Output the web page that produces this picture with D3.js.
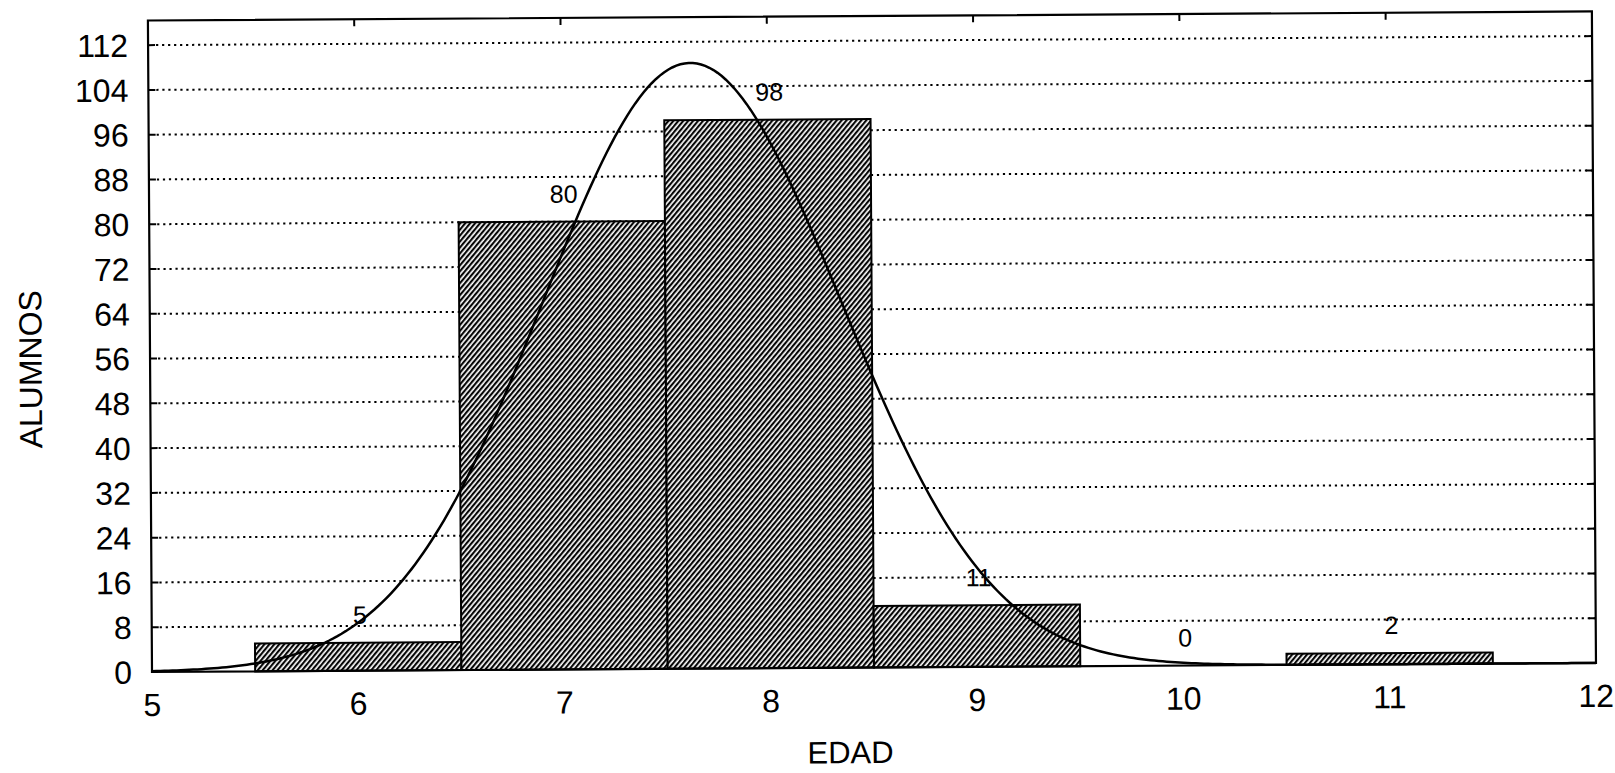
<!DOCTYPE html>
<html>
<head>
<meta charset="utf-8">
<script src="https://cdn.jsdelivr.net/npm/d3@7"></script>
<style>
  body { margin: 0; background: #fff; }
  svg { display: block; }
  text { font-family: "Liberation Sans", Arial, sans-serif; fill: #000; }
</style>
</head>
<body>
<svg id="chart" width="1615" height="773"></svg>
<script>
// Age classes (bin centres) and number of pupils in each
const edades = [6, 7, 8, 9, 10, 11];
const alumnos = [5, 80, 98, 11, 0, 2];
const xTicks = [5, 6, 7, 8, 9, 10, 11, 12];
const yTicks = [0, 8, 16, 24, 32, 40, 48, 56, 64, 72, 80, 88, 96, 104, 112];
const xTitle = "EDAD";
const yTitle = "ALUMNOS";

const svg = d3.select("#chart");

// plot frame
const plotLeft = 150, plotRight = 1594, plotBottom = 667.5, plotTop = 16;
const x = d3.scaleLinear().domain([5, 12]).range([plotLeft, plotRight]);
const y = d3.scaleLinear().domain([0, 116.4]).range([plotBottom, plotTop]);

// hatch fill for the bars
const defs = svg.append("defs");
const pat = defs.append("pattern")
  .attr("id", "hatch")
  .attr("patternUnits", "userSpaceOnUse")
  .attr("width", 3.8).attr("height", 3.8)
  .attr("patternTransform", "rotate(40)");
pat.append("rect").attr("width", 3.8).attr("height", 3.8).attr("fill", "#fff");
pat.append("line").attr("x1", 1.1).attr("y1", 0).attr("x2", 1.1).attr("y2", 3.8)
  .attr("stroke", "#000").attr("stroke-width", 2.1);

// the whole sheet sits slightly askew
const g = svg.append("g").attr("transform", "rotate(-0.36, 870, 350)");

// dotted horizontal grid
g.append("g").selectAll("line")
  .data(yTicks.filter(d => d > 0))
  .join("line")
  .attr("x1", plotLeft + 8).attr("x2", plotRight)
  .attr("y1", d => y(d)).attr("y2", d => y(d))
  .attr("stroke", "#000").attr("stroke-width", 2)
  .attr("stroke-dasharray", "2.2,3.8");

// histogram bars
const bins = edades.map((e, i) => ({ e, v: alumnos[i] }));
g.append("g").selectAll("rect")
  .data(bins.filter(d => d.v > 0))
  .join("rect")
  .attr("x", d => x(d.e - 0.5))
  .attr("width", d => x(d.e + 0.5) - x(d.e - 0.5))
  .attr("y", d => y(d.v))
  .attr("height", d => y(0) - y(d.v))
  .attr("fill", "url(#hatch)")
  .attr("stroke", "#000").attr("stroke-width", 2);

// fitted normal curve from the counts (bin width 1)
const N = d3.sum(alumnos);
const mean = d3.sum(bins, d => d.e * d.v) / N;
const sd = Math.sqrt(d3.sum(bins, d => d.v * (d.e - mean) ** 2) / (N - 1));
const fit = d3.range(5, 12.001, 0.02).map(t => [t,
  N / (sd * Math.sqrt(2 * Math.PI)) * Math.exp(-0.5 * ((t - mean) / sd) ** 2)]);
g.append("path")
  .datum(fit)
  .attr("fill", "none").attr("stroke", "#000").attr("stroke-width", 2.5)
  .attr("d", d3.line().x(d => x(d[0])).y(d => y(d[1])));

// frame
g.append("rect")
  .attr("x", plotLeft).attr("y", plotTop)
  .attr("width", plotRight - plotLeft).attr("height", plotBottom - plotTop)
  .attr("fill", "none").attr("stroke", "#000").attr("stroke-width", 2.2);

// inward ticks: left and right sides, top edge
g.append("g").selectAll("line")
  .data(yTicks.filter(d => d > 0))
  .join("line")
  .attr("x1", plotLeft).attr("x2", plotLeft + 7)
  .attr("y1", d => y(d)).attr("y2", d => y(d))
  .attr("stroke", "#000").attr("stroke-width", 2);
g.append("g").selectAll("line")
  .data(yTicks.filter(d => d > 0))
  .join("line")
  .attr("x1", plotRight - 7).attr("x2", plotRight)
  .attr("y1", d => y(d)).attr("y2", d => y(d))
  .attr("stroke", "#000").attr("stroke-width", 2);
g.append("g").selectAll("line")
  .data(xTicks.slice(1, -1))
  .join("line")
  .attr("x1", d => x(d)).attr("x2", d => x(d))
  .attr("y1", plotTop).attr("y2", plotTop + 7)
  .attr("stroke", "#000").attr("stroke-width", 2);

// y tick labels
g.append("g").selectAll("text")
  .data(yTicks)
  .join("text")
  .attr("x", plotLeft - 20).attr("y", d => y(d))
  .attr("dy", "0.36em")
  .attr("text-anchor", "end")
  .attr("font-size", 32)
  .text(d => d);

// x tick labels
g.append("g").selectAll("text")
  .data(xTicks)
  .join("text")
  .attr("x", d => x(d)).attr("y", plotBottom + 44)
  .attr("text-anchor", "middle")
  .attr("font-size", 32)
  .text(d => d);

// value labels above the bars
g.append("g").selectAll("text")
  .data(bins)
  .join("text")
  .attr("x", d => (x(d.e - 0.5) + x(d.e + 0.5)) / 2 + 2)
  .attr("y", d => y(d.v) - 19)
  .attr("text-anchor", "middle")
  .attr("font-size", 25)
  .text(d => d.v);

// axis titles
g.append("text")
  .attr("x", 848).attr("y", 763)
  .attr("text-anchor", "middle")
  .attr("font-size", 31)
  .text(xTitle);
g.append("text")
  .attr("transform", "translate(30,364) rotate(-90)")
  .attr("dy", "0.36em")
  .attr("text-anchor", "middle")
  .attr("font-size", 32)
  .text(yTitle);
</script>
</body>
</html>
